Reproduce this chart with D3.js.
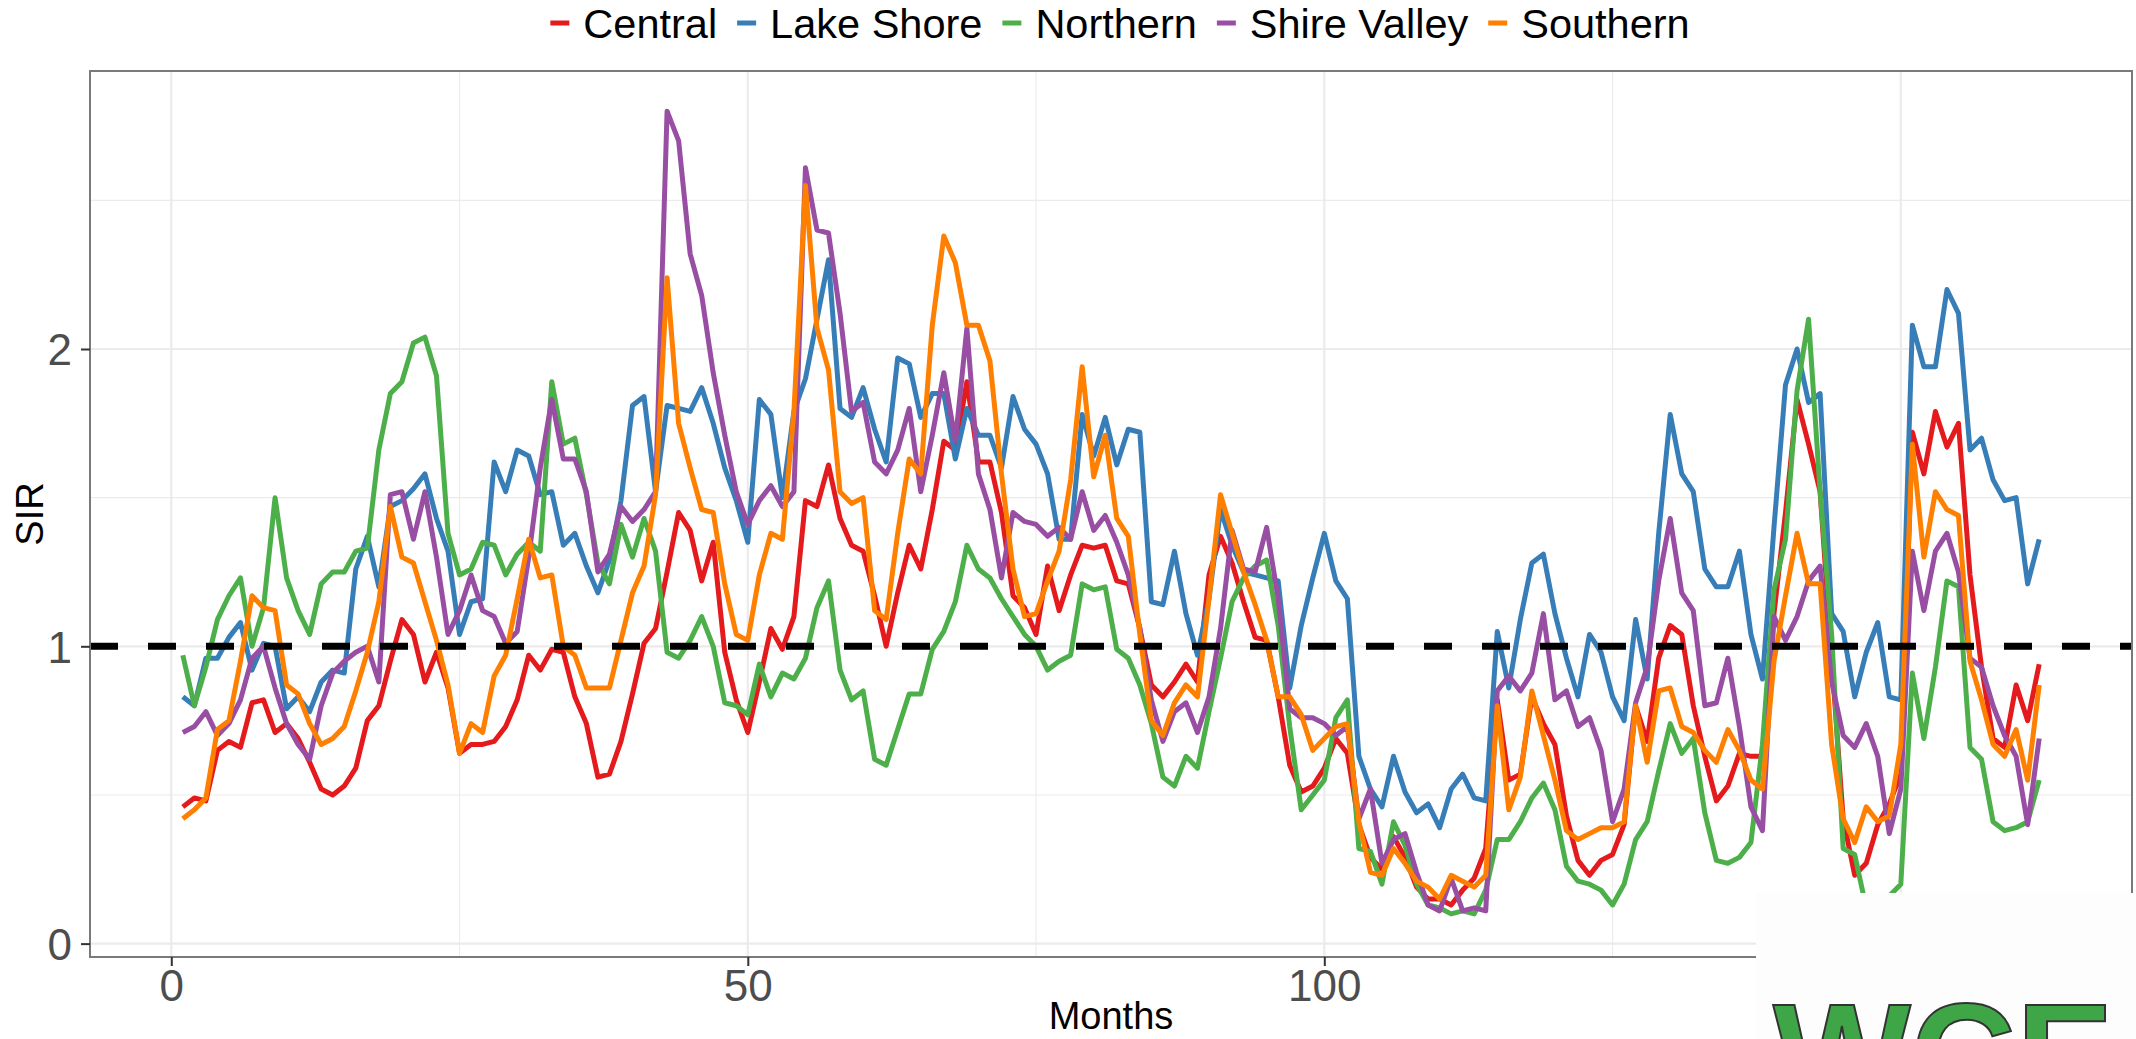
<!DOCTYPE html>
<html>
<head>
<meta charset="utf-8">
<script src="https://cdn.jsdelivr.net/npm/d3@7"></script>
<style>
  body { margin: 0; background: #ffffff; }
  svg text { font-family: "Liberation Sans", Arial, sans-serif; }
</style>
</head>
<body>
<svg id="chart" width="2136" height="1039"></svg>
<script>
// months 1..162
var months = d3.range(1, 163);

// SIR per region
var central = [
  0.46, 0.49, 0.48, 0.65, 0.68, 0.66, 0.81, 0.82, 0.71, 0.74,
  0.69, 0.61, 0.52, 0.50, 0.53, 0.59, 0.75, 0.80, 0.95, 1.09,
  1.04, 0.88, 0.98, 0.86, 0.64, 0.67, 0.67, 0.68, 0.73, 0.82,
  0.97, 0.92, 0.99, 0.98, 0.83, 0.74, 0.56, 0.57, 0.68, 0.84,
  1.01, 1.06, 1.25, 1.45, 1.39, 1.22, 1.35, 0.98, 0.82, 0.71,
  0.88, 1.06, 0.99, 1.10, 1.49, 1.47, 1.61, 1.43, 1.34, 1.32,
  1.17, 1.00, 1.18, 1.34, 1.26, 1.46, 1.69, 1.66, 1.89, 1.62,
  1.62, 1.45, 1.17, 1.13, 1.04, 1.27, 1.12, 1.24, 1.34, 1.33,
  1.34, 1.22, 1.21, 1.06, 0.87, 0.83, 0.88, 0.94, 0.88, 1.24,
  1.37, 1.28, 1.15, 1.03, 1.02, 0.83, 0.60, 0.51, 0.53, 0.59,
  0.69, 0.64, 0.40, 0.29, 0.25, 0.36, 0.29, 0.19, 0.15, 0.15,
  0.13, 0.18, 0.22, 0.32, 0.82, 0.55, 0.57, 0.83, 0.74, 0.67,
  0.43, 0.28, 0.23, 0.28, 0.30, 0.40, 0.80, 0.68, 0.96, 1.07,
  1.04, 0.80, 0.63, 0.48, 0.53, 0.64, 0.63, 0.63, 1.11, 1.45,
  1.83, 1.68, 1.52, 0.96, 0.42, 0.23, 0.27, 0.40, 0.47, 0.57,
  1.72, 1.58, 1.79, 1.67, 1.75, 1.24, 0.93, 0.69, 0.66, 0.87,
  0.75, 0.94
];
var lakeShore = [
  0.83, 0.80, 0.96, 0.96, 1.03, 1.08, 0.92, 1.01, 1.00, 0.79,
  0.83, 0.78, 0.88, 0.92, 0.91, 1.26, 1.37, 1.20, 1.47, 1.49,
  1.53, 1.58, 1.43, 1.32, 1.04, 1.15, 1.16, 1.62, 1.52, 1.66,
  1.64, 1.51, 1.52, 1.34, 1.38, 1.27, 1.18, 1.29, 1.49, 1.81,
  1.84, 1.52, 1.81, 1.80, 1.79, 1.87, 1.75, 1.60, 1.49, 1.35,
  1.83, 1.78, 1.50, 1.79, 1.90, 2.10, 2.30, 1.80, 1.77, 1.87,
  1.73, 1.62, 1.97, 1.95, 1.77, 1.85, 1.85, 1.63, 1.80, 1.71,
  1.71, 1.60, 1.84, 1.73, 1.68, 1.58, 1.36, 1.36, 1.78, 1.64,
  1.77, 1.61, 1.73, 1.72, 1.15, 1.14, 1.32, 1.11, 0.97, 1.16,
  1.46, 1.34, 1.25, 1.24, 1.23, 1.22, 0.86, 1.07, 1.23, 1.38,
  1.22, 1.16, 0.63, 0.52, 0.46, 0.63, 0.51, 0.44, 0.47, 0.39,
  0.52, 0.57, 0.49, 0.48, 1.05, 0.86, 1.09, 1.28, 1.31, 1.11,
  0.96, 0.83, 1.04, 0.98, 0.83, 0.75, 1.09, 0.89, 1.38, 1.78,
  1.58, 1.52, 1.26, 1.20, 1.20, 1.32, 1.04, 0.89, 1.40, 1.88,
  2.00, 1.82, 1.85, 1.11, 1.05, 0.83, 0.98, 1.08, 0.83, 0.82,
  2.08, 1.94, 1.94, 2.20, 2.12, 1.66, 1.70, 1.56, 1.49, 1.50,
  1.21, 1.36
];
var northern = [
  0.97, 0.80, 0.93, 1.09, 1.17, 1.23, 1.00, 1.13, 1.50, 1.23,
  1.12, 1.04, 1.21, 1.25, 1.25, 1.32, 1.33, 1.66, 1.85, 1.89,
  2.02, 2.04, 1.91, 1.38, 1.24, 1.26, 1.35, 1.34, 1.24, 1.31,
  1.35, 1.32, 1.89, 1.68, 1.70, 1.51, 1.28, 1.21, 1.41, 1.30,
  1.43, 1.32, 0.98, 0.96, 1.02, 1.10, 1.00, 0.81, 0.80, 0.77,
  0.94, 0.83, 0.91, 0.89, 0.96, 1.13, 1.22, 0.92, 0.82, 0.85,
  0.62, 0.60, 0.72, 0.84, 0.84, 0.99, 1.05, 1.15, 1.34, 1.26,
  1.23, 1.16, 1.10, 1.04, 1.00, 0.92, 0.95, 0.97, 1.21, 1.19,
  1.20, 0.99, 0.96, 0.87, 0.74, 0.56, 0.53, 0.63, 0.59, 0.78,
  0.96, 1.15, 1.23, 1.27, 1.29, 1.07, 0.73, 0.45, 0.50, 0.55,
  0.76, 0.82, 0.32, 0.31, 0.20, 0.41, 0.33, 0.20, 0.13, 0.12,
  0.10, 0.11, 0.10, 0.18, 0.35, 0.35, 0.41, 0.49, 0.54, 0.45,
  0.26, 0.21, 0.20, 0.18, 0.13, 0.20, 0.35, 0.41, 0.58, 0.74,
  0.64, 0.69, 0.44, 0.28, 0.27, 0.29, 0.34, 0.67, 1.19, 1.36,
  1.86, 2.10, 1.52, 1.04, 0.32, 0.30, 0.12, 0.13, 0.16, 0.20,
  0.91, 0.69, 0.93, 1.22, 1.20, 0.66, 0.62, 0.41, 0.38, 0.39,
  0.41, 0.55
];
var shireValley = [
  0.71, 0.73, 0.78, 0.70, 0.74, 0.82, 0.96, 1.00, 0.86, 0.74,
  0.67, 0.62, 0.80, 0.91, 0.95, 0.98, 1.00, 0.88, 1.51, 1.52,
  1.36, 1.52, 1.30, 1.04, 1.12, 1.24, 1.12, 1.10, 1.01, 1.05,
  1.30, 1.60, 1.83, 1.63, 1.63, 1.52, 1.25, 1.31, 1.47, 1.42,
  1.46, 1.52, 2.80, 2.70, 2.32, 2.18, 1.92, 1.71, 1.52, 1.41,
  1.49, 1.54, 1.47, 1.52, 2.61, 2.40, 2.39, 2.12, 1.79, 1.82,
  1.62, 1.58, 1.66, 1.80, 1.52, 1.71, 1.92, 1.69, 2.07, 1.58,
  1.46, 1.23, 1.45, 1.42, 1.41, 1.37, 1.40, 1.36, 1.52, 1.39,
  1.44, 1.35, 1.24, 1.06, 0.82, 0.68, 0.78, 0.81, 0.71, 0.83,
  1.06, 1.39, 1.26, 1.25, 1.40, 1.16, 0.79, 0.76, 0.76, 0.74,
  0.70, 0.73, 0.42, 0.52, 0.27, 0.35, 0.37, 0.24, 0.13, 0.11,
  0.22, 0.11, 0.12, 0.11, 0.85, 0.90, 0.85, 0.91, 1.11, 0.82,
  0.85, 0.73, 0.76, 0.65, 0.41, 0.52, 0.81, 0.93, 1.22, 1.43,
  1.18, 1.12, 0.80, 0.81, 0.96, 0.73, 0.46, 0.38, 1.10, 1.02,
  1.10, 1.22, 1.27, 0.88, 0.70, 0.66, 0.74, 0.63, 0.37, 0.52,
  1.32, 1.12, 1.32, 1.38, 1.25, 0.96, 0.93, 0.80, 0.70, 0.63,
  0.40, 0.69
];
var southern = [
  0.42, 0.45, 0.49, 0.72, 0.75, 0.95, 1.17, 1.13, 1.12, 0.87,
  0.84, 0.74, 0.67, 0.69, 0.73, 0.85, 0.98, 1.15, 1.47, 1.30,
  1.28, 1.15, 1.02, 0.87, 0.64, 0.74, 0.71, 0.90, 0.97, 1.16,
  1.36, 1.23, 1.24, 1.00, 0.97, 0.86, 0.86, 0.86, 1.02, 1.18,
  1.27, 1.51, 2.24, 1.75, 1.60, 1.46, 1.45, 1.21, 1.04, 1.02,
  1.24, 1.38, 1.36, 1.79, 2.55, 2.07, 1.93, 1.52, 1.48, 1.50,
  1.12, 1.09, 1.38, 1.63, 1.58, 2.08, 2.38, 2.29, 2.08, 2.08,
  1.96, 1.58, 1.26, 1.10, 1.11, 1.22, 1.32, 1.56, 1.94, 1.57,
  1.71, 1.43, 1.37, 1.04, 0.75, 0.70, 0.81, 0.87, 0.83, 1.16,
  1.51, 1.38, 1.25, 1.14, 1.02, 0.83, 0.83, 0.77, 0.65, 0.69,
  0.73, 0.74, 0.41, 0.24, 0.23, 0.32, 0.27, 0.21, 0.19, 0.15,
  0.23, 0.21, 0.19, 0.23, 0.80, 0.45, 0.56, 0.85, 0.70, 0.55,
  0.38, 0.35, 0.37, 0.39, 0.39, 0.41, 0.80, 0.61, 0.85, 0.86,
  0.73, 0.71, 0.65, 0.61, 0.72, 0.65, 0.55, 0.52, 0.95, 1.17,
  1.38, 1.21, 1.21, 0.67, 0.42, 0.34, 0.46, 0.41, 0.43, 0.67,
  1.68, 1.30, 1.52, 1.46, 1.44, 0.95, 0.82, 0.67, 0.63, 0.72,
  0.55, 0.87
];

var regionNames = ["Central", "Lake Shore", "Northern", "Shire Valley", "Southern"];
var regionColors = ["#E41A1C", "#377EB8", "#4DAF4A", "#984EA3", "#FF7F00"];
var xGridValues = [0, 50, 100, 150];
var xLabelValues = [0, 50, 100];   // 150 sits under the logo box
var xMinorValues = [25, 75, 125];
var yTickValues = [0, 1, 2];
var yMinorValues = [0.5, 1.5, 2.5];
var refLevel = 1;

var seriesValues = [central, lakeShore, northern, shireValley, southern];

var svg = d3.select("#chart");

// panel box (names avoid window.top)
var panelLeft = 90, panelRight = 2132, panelTop = 71, panelBottom = 957;

var x = d3.scaleLinear().domain([-7.05, 170.05]).range([panelLeft, panelRight]);
var y = d3.scaleLinear().domain([-0.045, 2.935]).range([panelBottom, panelTop]);

// grid lines
function hGrid(vals, w) {
  svg.append("g").selectAll("line").data(vals).enter().append("line")
    .attr("x1", panelLeft).attr("x2", panelRight)
    .attr("y1", function(d) { return y(d); }).attr("y2", function(d) { return y(d); })
    .attr("stroke", "#ebebeb").attr("stroke-width", w);
}
function vGrid(vals, w) {
  svg.append("g").selectAll("line").data(vals).enter().append("line")
    .attr("y1", panelTop).attr("y2", panelBottom)
    .attr("x1", function(d) { return x(d); }).attr("x2", function(d) { return x(d); })
    .attr("stroke", "#ebebeb").attr("stroke-width", w);
}
hGrid(yMinorValues, 1.1);
vGrid(xMinorValues, 1.1);
hGrid(yTickValues, 2.2);
vGrid(xGridValues, 2.2);

// the five lines
var line = d3.line()
  .x(function(d, i) { return x(months[i]); })
  .y(function(d) { return y(d); });

svg.append("g").selectAll("path")
  .data(seriesValues)
  .enter()
  .append("path")
  .attr("d", line)
  .attr("fill", "none")
  .attr("stroke", function(d, i) { return regionColors[i]; })
  .attr("stroke-width", 5)
  .attr("stroke-linejoin", "round")
  .attr("stroke-linecap", "butt");

// dashed reference line at SIR = 1
svg.append("line")
  .attr("x1", panelLeft).attr("x2", panelRight)
  .attr("y1", y(refLevel)).attr("y2", y(refLevel))
  .attr("stroke", "#000").attr("stroke-width", 7)
  .attr("stroke-dasharray", "28,30");

// panel border
svg.append("rect")
  .attr("x", panelLeft).attr("y", panelTop)
  .attr("width", panelRight - panelLeft).attr("height", panelBottom - panelTop)
  .attr("fill", "none").attr("stroke", "#7a7a7a").attr("stroke-width", 2);

// axes
var xAxis = svg.append("g")
  .attr("transform", "translate(0," + panelBottom + ")")
  .call(d3.axisBottom(x).tickValues(xLabelValues).tickSize(9).tickPadding(4));
var yAxis = svg.append("g")
  .attr("transform", "translate(" + panelLeft + ",0)")
  .call(d3.axisLeft(y).tickValues(yTickValues).tickFormat(d3.format("d")).tickSize(9).tickPadding(9));

[xAxis, yAxis].forEach(function(a) {
  a.select(".domain").remove();
  a.selectAll(".tick line").attr("stroke", "#333333").attr("stroke-width", 2);
  a.selectAll(".tick text")
    .attr("fill", "#4d4d4d")
    .style("font-size", "44px")
    .style("font-family", "'Liberation Sans', Arial, sans-serif");
});
yAxis.selectAll(".tick text").attr("dy", "0.36em");

// axis titles
svg.append("text")
  .attr("x", (panelLeft + panelRight) / 2).attr("y", 1029)
  .attr("text-anchor", "middle")
  .style("font-size", "38px")
  .text("Months");

svg.append("text")
  .attr("transform", "translate(43," + (panelTop + panelBottom) / 2 + ") rotate(-90)")
  .attr("text-anchor", "middle")
  .style("font-size", "38px")
  .text("SIR");

// legend along the top
var legend = svg.append("g");
var items = legend.selectAll("g").data(regionNames).enter().append("g");
items.append("line")
  .attr("x1", 0).attr("x2", 19).attr("y1", 0).attr("y2", 0)
  .attr("stroke", function(d, i) { return regionColors[i]; })
  .attr("stroke-width", 5);
items.append("text")
  .attr("x", 33).attr("y", 0).attr("dy", "0.36em")
  .style("font-size", "41.5px")
  .text(function(d) { return d; });

var pos = 0;
items.each(function() {
  var w = d3.select(this).select("text").node().getComputedTextLength();
  d3.select(this).attr("transform", "translate(" + pos + ",0)");
  pos += 33 + w + 20;
});
var legendWidth = pos - 20;
legend.attr("transform", "translate(" + (1120 - legendWidth / 2) + ",23)");

// logo box in the bottom right corner
svg.append("rect")
  .attr("x", 1756).attr("y", 893)
  .attr("width", 2136 - 1756).attr("height", 1039 - 893)
  .attr("fill", "#fdfdfd");
svg.append("text")
  .attr("x", 1773).attr("y", 1106)
  .style("font-size", "146px")
  .style("font-weight", "bold")
  .attr("fill", "#3fa648")
  .attr("stroke", "#333")
  .attr("stroke-width", 2)
  .text("WCE");
svg.append("circle")
  .attr("cx", 2200).attr("cy", 1095).attr("r", 78)
  .attr("fill", "none").attr("stroke", "#222").attr("stroke-width", 2);
svg.append("circle")
  .attr("cx", 2200).attr("cy", 1095).attr("r", 72)
  .attr("fill", "none").attr("stroke", "#222").attr("stroke-width", 2);
</script>
</body>
</html>
